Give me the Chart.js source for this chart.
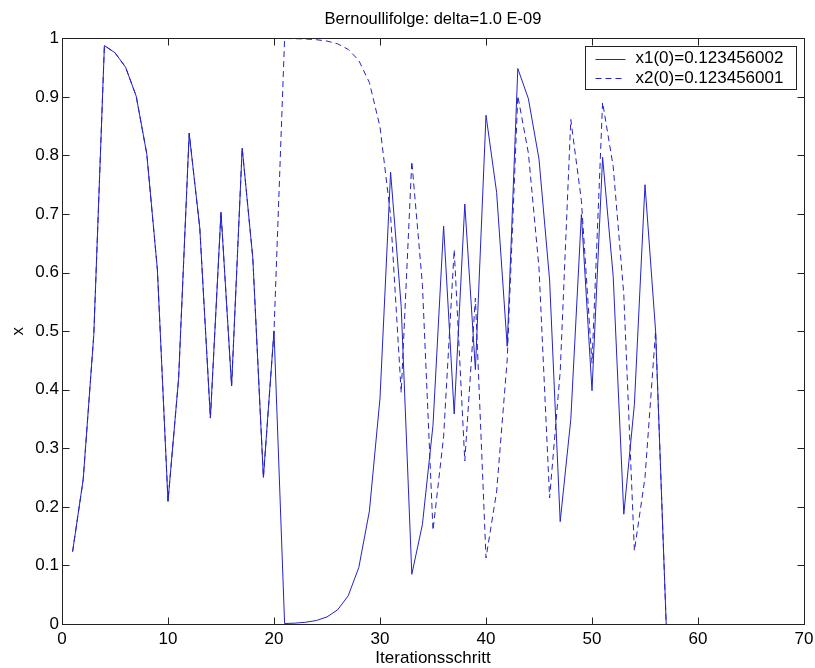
<!DOCTYPE html>
<html>
<head>
<meta charset="utf-8">
<script src="https://cdn.jsdelivr.net/npm/chart.js@4/dist/chart.umd.min.js"></script>
<style>
  html, body { margin: 0; padding: 0; background: #fff; }
  canvas { display: block; }
</style>
</head>
<body>
<canvas id="grafico" width="815" height="668"></canvas>
<script>
// ===============================
// DATEN
// ===============================

const schritte = [1, 2, 3, 4, 5, 6, 7, 8, 9, 10, 11, 12, 13, 14, 15, 16, 17, 18, 19, 20,
  21, 22, 23, 24, 25, 26, 27, 28, 29, 30, 31, 32, 33, 34, 35, 36, 37, 38, 39, 40,
  41, 42, 43, 44, 45, 46, 47, 48, 49, 50, 51, 52, 53, 54, 55, 56, 57];

const x1 = [0.1235, 0.2469, 0.4938, 0.9876, 0.9753, 0.9506, 0.9012, 0.8024, 0.6047, 0.2095,
  0.4189, 0.8379, 0.6758, 0.3516, 0.7031, 0.4063, 0.8125, 0.6251, 0.2502, 0.5004,
  0.0008, 0.0015, 0.0030, 0.0060, 0.0121, 0.0241, 0.0482, 0.0964, 0.1928, 0.3856,
  0.7712, 0.5425, 0.0849, 0.1698, 0.3396, 0.6793, 0.3586, 0.7171, 0.4343, 0.8686,
  0.7371, 0.4742, 0.9484, 0.8968, 0.7937, 0.5874, 0.1748, 0.3496, 0.6992, 0.3984,
  0.7969, 0.5938, 0.1875, 0.3750, 0.7500, 0.5000, 0.0000];

const x2 = [0.1235, 0.2469, 0.4938, 0.9876, 0.9753, 0.9506, 0.9012, 0.8024, 0.6047, 0.2095,
  0.4189, 0.8379, 0.6758, 0.3516, 0.7031, 0.4063, 0.8125, 0.6250, 0.2500, 0.4999,
  0.9997, 0.9994, 0.9988, 0.9976, 0.9953, 0.9906, 0.9811, 0.9622, 0.9244, 0.8488,
  0.6975, 0.3950, 0.7900, 0.5799, 0.1598, 0.3195, 0.6391, 0.2782, 0.5564, 0.1127,
  0.2255, 0.4510, 0.9019, 0.8038, 0.6077, 0.2153, 0.4307, 0.8613, 0.7227, 0.4453,
  0.8906, 0.7813, 0.5625, 0.1250, 0.2500, 0.5000, 0.0000];

const xGrenzen = [0, 70, 10];
const yGrenzen = [0, 1, 0.1];

const titel = "Bernoullifolge: delta=1.0 E-09";
const xTitel = "Iterationsschritt";
const yTitel = "x";
const namen = ["x1(0)=0.123456002", "x2(0)=0.123456001"];

// ===============================
// PLUGINS
// ===============================

const FARBE = "#2323c8";
const SCHRIFT = "'Liberation Sans', Arial, sans-serif";

// Kasten um die Achsen + Striche nach innen (wie Matlab)
const rahmen = {
  id: "rahmen",
  afterDatasetsDraw(chart) {
    const { ctx, chartArea: a, scales } = chart;
    const len = 7;
    ctx.save();
    ctx.strokeStyle = "#222";
    ctx.lineWidth = 1;
    const l = Math.round(a.left) + 0.5, r = Math.round(a.right) + 0.5;
    const t = Math.round(a.top) + 0.5, b = Math.round(a.bottom) + 0.5;
    ctx.strokeRect(l, t, r - l, b - t);
    ctx.beginPath();
    scales.x.ticks.forEach(tk => {
      const px = Math.round(scales.x.getPixelForValue(tk.value)) + 0.5;
      ctx.moveTo(px, b); ctx.lineTo(px, b - len);
      ctx.moveTo(px, t); ctx.lineTo(px, t + len);
    });
    scales.y.ticks.forEach(tk => {
      const py = Math.round(scales.y.getPixelForValue(tk.value)) + 0.5;
      ctx.moveTo(l, py); ctx.lineTo(l + len, py);
      ctx.moveTo(r, py); ctx.lineTo(r - len, py);
    });
    ctx.stroke();
    ctx.restore();
  }
};

// Legende oben rechts im Diagramm
const legende = {
  id: "legende",
  afterDraw(chart) {
    const { ctx } = chart;
    const bx = 585.5, by = 46.5, bw = 211, bh = 43;
    ctx.save();
    ctx.fillStyle = "#fff";
    ctx.fillRect(bx, by, bw, bh);
    ctx.strokeStyle = "#222";
    ctx.lineWidth = 1;
    ctx.strokeRect(bx, by, bw, bh);
    ctx.font = "17px " + SCHRIFT;
    ctx.textBaseline = "middle";
    chart.data.datasets.forEach((ds, i) => {
      const y = by + 12 + i * 19.5;
      ctx.strokeStyle = ds.borderColor;
      ctx.setLineDash(ds.borderDash || []);
      ctx.beginPath();
      ctx.moveTo(bx + 10, Math.round(y) + 0.5);
      ctx.lineTo(bx + 40, Math.round(y) + 0.5);
      ctx.stroke();
      ctx.setLineDash([]);
      ctx.fillStyle = "#000";
      ctx.fillText(ds.label, bx + 50, y);
    });
    ctx.restore();
  }
};

// ===============================
// GRAFIK
// ===============================

Chart.defaults.color = "#000";
Chart.defaults.font.family = SCHRIFT;

new Chart(document.getElementById("grafico"), {
  type: "line",
  data: {
    datasets: [
      {
        label: namen[0],
        data: schritte.map((n, i) => ({ x: n, y: x1[i] })),
        borderColor: FARBE,
        borderWidth: 1,
        pointRadius: 0,
        tension: 0,
        order: 1
      },
      {
        label: namen[1],
        data: schritte.map((n, i) => ({ x: n, y: x2[i] })),
        borderColor: FARBE,
        borderWidth: 1,
        borderDash: [6, 4],
        pointRadius: 0,
        tension: 0,
        order: 0
      }
    ]
  },
  options: {
    responsive: false,
    animation: false,
    layout: { padding: { top: 0, right: 11, bottom: 0, left: 0 } },
    plugins: {
      legend: { display: false },
      tooltip: { enabled: false },
      title: {
        display: true,
        fullSize: false,
        text: titel,
        font: { size: 16.5, weight: "normal", lineHeight: 1.2 },
        padding: { top: 10, bottom: 8.5 }
      }
    },
    scales: {
      x: {
        type: "linear",
        min: xGrenzen[0],
        max: xGrenzen[1],
        ticks: { stepSize: xGrenzen[2], padding: 5, font: { size: 17 } },
        grid: { display: false, drawTicks: false },
        border: { display: false },
        title: {
          display: true,
          text: xTitel,
          font: { size: 17, lineHeight: 1 },
          padding: { top: 0, bottom: 1 }
        },
        afterFit(scale) {
          scale.height = 44;
          scale.paddingLeft = 0;
          scale.paddingRight = 0;
        }
      },
      y: {
        min: yGrenzen[0],
        max: yGrenzen[1],
        ticks: {
          stepSize: yGrenzen[2],
          padding: 3,
          font: { size: 17 },
          callback: v => String(Math.round(v * 10) / 10)
        },
        grid: { display: false, drawTicks: false },
        border: { display: false },
        title: {
          display: true,
          text: yTitel,
          font: { size: 17, lineHeight: 1 },
          padding: { top: 10, bottom: 0 }
        },
        afterFit(scale) { scale.width = 62; }
      }
    }
  },
  plugins: [rahmen, legende]
});
</script>
</body>
</html>
